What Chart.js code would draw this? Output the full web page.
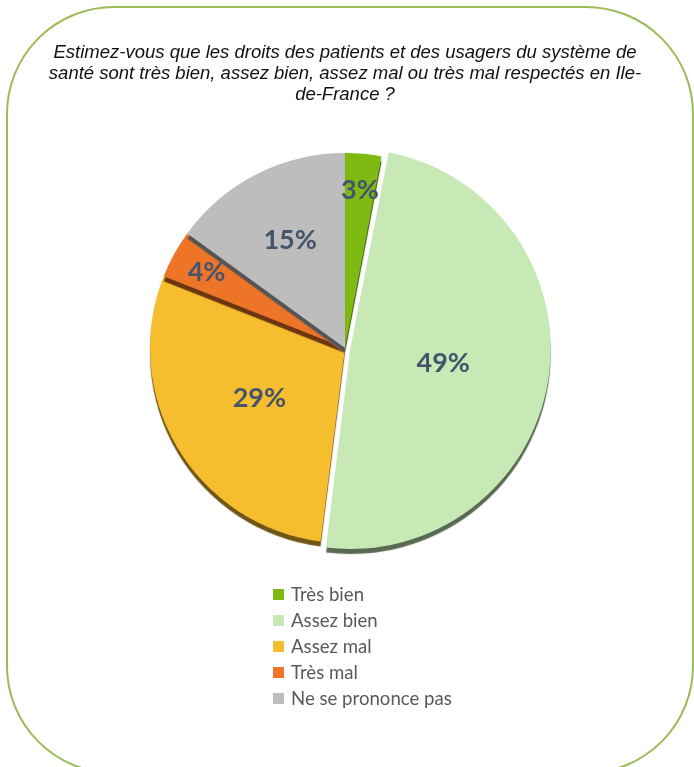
<!DOCTYPE html>
<html>
<head>
<meta charset="utf-8">
<script src="https://cdn.jsdelivr.net/npm/chart.js@4/dist/chart.umd.min.js"></script>
<style>
    html, body { margin: 0; padding: 0; background: #fff; }
    #wrap { position: relative; width: 694px; height: 767px; overflow: hidden; }
    #frame { position: absolute; left: 6px; top: 6px; width: 684px; height: 764px; border: 2px solid #9bbb59; border-radius: 108px; box-sizing: content-box; }
    #chartBox { position: absolute; left: 0; top: 0; width: 694px; height: 767px; }
    #legend { position: absolute; left: 273px; top: 581px; font-family: Lato, "Open Sans", sans-serif; font-size: 18.6px; color: #595959; }
    #legend .row { height: 26px; display: flex; align-items: center; }
    #legend .box { width: 11px; height: 11px; margin-right: 7px; }
</style>
</head>
<body>
<div id="wrap">
    <div id="frame"></div>
    <div id="chartBox"><canvas id="pie"></canvas></div>
    <div id="legend"></div>
</div>
<script>
/* Droits des patients — répartition des réponses */
const titleLines = [
    'Estimez-vous que les droits des patients et des usagers du système de',
    'santé sont très bien, assez bien, assez mal ou très mal respectés en Ile-',
    'de-France ?'
];
const categories = ['Très bien', 'Assez bien', 'Assez mal', 'Très mal', 'Ne se prononce pas'];
const percents = [3, 49, 29, 4, 15];
const sliceColors = ['#7fba13', '#c7e9b6', '#f6be2e', '#ee7528', '#bdbdbd'];
const explode = [0, 22, 0, 0, 0];

function darken(hex, f) {
    const n = parseInt(hex.slice(1), 16);
    const r = Math.round(((n >> 16) & 255) * f), g = Math.round(((n >> 8) & 255) * f), b = Math.round((n & 255) * f);
    return `rgb(${r},${g},${b})`;
}

// draw slices one by one with a dark edge below, like the 3D look of the original
const sideShadow = {
    id: 'sideShadow',
    beforeDatasetDraw(chart, args) {
        const ctx = chart.ctx;
        args.meta.data.forEach((el, i) => {
            ctx.save();
            ctx.shadowColor = darken(sliceColors[i], 0.45);
            ctx.shadowOffsetY = 5;
            ctx.shadowBlur = 1;
            el.draw(ctx);
            ctx.restore();
        });
        return false;
    }
};

const sliceLabels = {
    id: 'sliceLabels',
    afterDatasetsDraw(chart) {
        const ctx = chart.ctx;
        const meta = chart.getDatasetMeta(0);
        ctx.save();
        ctx.font = 'bold 27px Lato, "Open Sans", sans-serif';
        ctx.fillStyle = '#44546a';
        ctx.textAlign = 'center';
        ctx.textBaseline = 'middle';
        meta.data.forEach((el, i) => {
            const p = el.getProps(['x', 'y', 'startAngle', 'endAngle', 'outerRadius'], true);
            const v = percents[i];
            const frac = v < 5 ? 0.81 : v < 20 ? 0.62 : 0.51;
            const mid = (p.startAngle + p.endAngle) / 2;
            ctx.fillText(v + '%', p.x + Math.cos(mid) * p.outerRadius * frac, p.y + Math.sin(mid) * p.outerRadius * frac);
        });
        ctx.restore();
    }
};

new Chart(document.getElementById('pie'), {
    type: 'pie',
    data: { labels: categories, datasets: [{ data: percents, backgroundColor: sliceColors, borderWidth: 0, offset: explode }] },
    options: {
        responsive: true, maintainAspectRatio: false, animation: false,
        radius: 195,
        layout: { padding: { left: 0, right: 4, top: 0, bottom: 221 } },
        plugins: {
            legend: { display: false },
            tooltip: { enabled: false },
            title: {
                display: true, text: titleLines, color: '#111',
                font: { family: '"Liberation Sans", Arial, sans-serif', size: 18.5, style: 'italic', weight: 'normal', lineHeight: 1.135 },
                padding: { top: 42, bottom: 45 }
            }
        }
    },
    plugins: [sideShadow, sliceLabels]
});

const legend = document.getElementById('legend');
categories.forEach((c, i) => {
    const row = document.createElement('div'); row.className = 'row';
    row.innerHTML = `<div class="box" style="background:${sliceColors[i]}"></div><span>${c}</span>`;
    legend.appendChild(row);
});
</script>
</body>
</html>
